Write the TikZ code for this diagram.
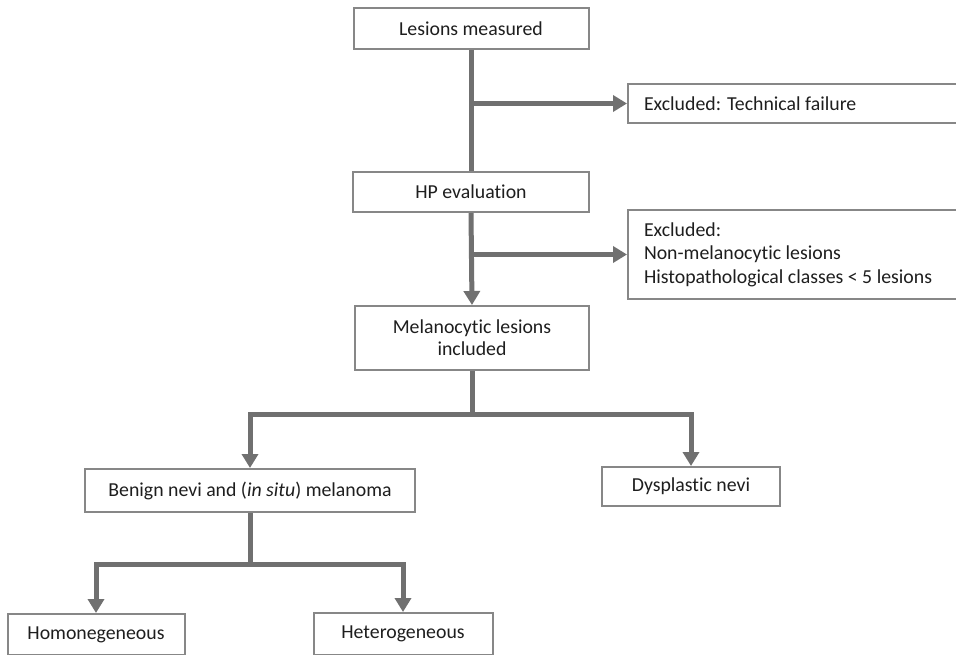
\documentclass[tikz,border=0pt]{standalone}
\usepackage{fontspec}
\setmainfont{Carlito}[Ligatures=NoCommon]
\usetikzlibrary{arrows.meta,calc}
\definecolor{conn}{RGB}{112,112,112}
\definecolor{bord}{RGB}{135,135,135}
\definecolor{txt}{RGB}{30,30,30}
\begin{document}
\begin{tikzpicture}[x=1pt,y=-1pt,
  box/.style={draw=bord, line width=2pt, fill=white, text=txt, inner sep=0pt,
    font=\fontsize{19.8}{23.5}\selectfont, align=center},
  lbox/.style={box, anchor=north west, align=flush left, inner xsep=16pt, text width=311pt, minimum width=343pt},
  flow/.style={draw=conn, line width=5pt},
  arr/.style={flow, -{Triangle[length=14pt,width=16pt]}}]
\useasboundingbox (0,0) rectangle (956,655);
\clip (0,0) rectangle (956,655);
\fill[white] (0,0) rectangle (956,655);
% nodes
\node[box, minimum width=235pt, minimum height=41pt] (A) at (471,28.5) {Lesions measured};
\node[lbox, minimum height=39pt] (B) at (627,83) {Excluded: Technical failure};
\node[box, minimum width=236pt, minimum height=40pt] (C) at (471,192) {HP evaluation};
\node[lbox, minimum height=89pt] (D) at (627,209) {Excluded:\\Non-melanocytic lesions\\Histopathological classes {<} 5 lesions};
\node[box, minimum width=234pt, minimum height=64pt] (E) at (472,338) {Melanocytic lesions\\[-1.5pt]included};
\node[box, minimum width=330pt, minimum height=43pt] (F) at (250,490.5) {Benign nevi and (\textit{in situ}) melanoma};
\node[box, minimum width=178pt, minimum height=39pt] (G) at (691,486.5) {Dysplastic nevi};
\node[box, minimum width=177pt, minimum height=41pt] (H) at (96,634.5) {Homonegeneous};
\node[box, minimum width=179pt, minimum height=42pt] (I) at (403,634) {Heterogeneous};
% junction coordinates
\coordinate (j1) at ($(E.south)+(0,43)$);
\coordinate (j2) at ($(F.south)+(0,51)$);
% connectors
\draw[flow] (A.south) -- (C.north);
\draw[arr] (A.south |- B.west) -- (B.west);
\draw[arr] (C.south) -- (E.north);
\draw[arr] (C.south |- D.west) -- (D.west);
\draw[flow] (E.south) -- (j1);
\draw[arr] (j1) -| (F.north);
\draw[arr] (j1) -| (G.north);
\draw[flow] (F.south) -- (j2);
\draw[arr] (j2) -| (H.north);
\draw[arr] (j2) -| (I.north);
\end{tikzpicture}
\end{document}
